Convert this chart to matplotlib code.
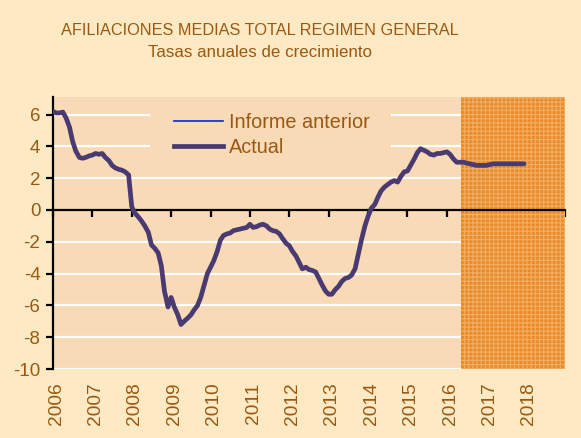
import matplotlib
matplotlib.use('Agg')
import matplotlib.pyplot as plt
from matplotlib.lines import Line2D
from matplotlib.patches import Rectangle
from matplotlib.transforms import blended_transform_factory

# monthly points (decimal year, annual growth %)
years = [2006.00, 2006.08, 2006.17, 2006.25, 2006.33, 2006.42, 2006.50, 2006.58,
         2006.67, 2006.75, 2006.83, 2006.92, 2007.00, 2007.08, 2007.17, 2007.25,
         2007.33, 2007.42, 2007.50, 2007.58, 2007.67, 2007.75, 2007.83, 2007.92,
         2008.00, 2008.08, 2008.17, 2008.25, 2008.33, 2008.42, 2008.50, 2008.58,
         2008.67, 2008.75, 2008.83, 2008.92, 2009.00, 2009.08, 2009.17, 2009.25,
         2009.33, 2009.42, 2009.50, 2009.58, 2009.67, 2009.75, 2009.83, 2009.92,
         2010.00, 2010.08, 2010.17, 2010.25, 2010.33, 2010.42, 2010.50, 2010.58,
         2010.67, 2010.75, 2010.83, 2010.92, 2011.00, 2011.08, 2011.17, 2011.25,
         2011.33, 2011.42, 2011.50, 2011.58, 2011.67, 2011.75, 2011.83, 2011.92,
         2012.00, 2012.08, 2012.17, 2012.25, 2012.33, 2012.42, 2012.50, 2012.58,
         2012.67, 2012.75, 2012.83, 2012.92, 2013.00, 2013.08, 2013.17, 2013.25,
         2013.33, 2013.42, 2013.50, 2013.58, 2013.67, 2013.75, 2013.83, 2013.92,
         2014.00, 2014.08, 2014.17, 2014.25, 2014.33, 2014.42, 2014.50, 2014.58,
         2014.67, 2014.75, 2014.83, 2014.92, 2015.00, 2015.08, 2015.17, 2015.25,
         2015.33, 2015.42, 2015.50, 2015.58, 2015.67, 2015.75, 2015.83, 2015.92,
         2016.00, 2016.08, 2016.17, 2016.25, 2016.33, 2016.42, 2016.50, 2016.58,
         2016.67, 2016.75, 2016.83, 2016.92, 2017.00, 2017.08, 2017.17, 2017.25,
         2017.50, 2017.75, 2017.96]
actual = [6.2, 6.1, 6.1, 6.15, 5.8, 5.2, 4.3, 3.7,
          3.3, 3.25, 3.3, 3.4, 3.45, 3.55, 3.5, 3.55,
          3.3, 3.1, 2.8, 2.65, 2.55, 2.5, 2.4, 2.2,
          0.2, -0.2, -0.45, -0.7, -1.0, -1.4, -2.2, -2.4,
          -2.7, -3.5, -5.1, -6.1, -5.5, -6.1, -6.6, -7.2,
          -7.0, -6.8, -6.6, -6.3, -6.0, -5.5, -4.8, -4.0,
          -3.6, -3.2, -2.6, -1.9, -1.6, -1.5, -1.45, -1.3,
          -1.25, -1.2, -1.15, -1.1, -0.9, -1.1, -1.05, -0.95,
          -0.9, -1.0, -1.2, -1.3, -1.35, -1.5, -1.8, -2.1,
          -2.25, -2.6, -2.9, -3.3, -3.7, -3.6, -3.75, -3.8,
          -3.9, -4.3, -4.7, -5.1, -5.3, -5.3, -5.0, -4.8,
          -4.5, -4.3, -4.25, -4.1, -3.7, -2.8, -1.9, -1.0,
          -0.4, 0.1, 0.35, 0.8, 1.2, 1.45, 1.6, 1.75,
          1.85, 1.75, 2.1, 2.4, 2.45, 2.8, 3.2, 3.6,
          3.85, 3.75, 3.65, 3.5, 3.45, 3.55, 3.55, 3.6,
          3.65, 3.5, 3.2, 3.0, 3.0, 3.0, 2.95, 2.9,
          2.85, 2.8, 2.8, 2.8, 2.8, 2.85, 2.9, 2.9,
          2.9, 2.9, 2.9]

forecast_start = 2016.36
forecast_end = 2019
tick_years = list(range(2006, 2020))
label_years = list(range(2006, 2019))
yticks = [-10, -8, -6, -4, -2, 0, 2, 4, 6]

brown = '#9A5912'
fig_bg = '#FDE9C4'
plot_bg = '#F9DAB6'
line_col = '#4A3A72'

plt.rcParams['font.family'] = ['Liberation Sans', 'DejaVu Sans']
plt.rcParams['hatch.linewidth'] = 0.9

fig = plt.figure(figsize=(5.81, 4.38), dpi=100, facecolor=fig_bg)
ax = fig.add_axes([0.0912, 0.1575, 0.8813, 0.621])
ax.set_facecolor(plot_bg)

for y in yticks:
    if y != 0:
        ax.axhline(y, color='white', lw=1.6, zorder=1)

ax.axvspan(forecast_start, forecast_end, facecolor='#E98B2C', edgecolor='#F2AC5E',
           hatch='++++', lw=0, zorder=2)

ax.plot(years, actual, color=line_col, lw=3.4, zorder=4, solid_capstyle='round')

ax.set_xlim(2006, 2019)
ax.set_ylim(-10, 7.1)

for s in ['top', 'right']:
    ax.spines[s].set_visible(False)
ax.spines['left'].set_linewidth(1.6)
ax.spines['bottom'].set_position(('data', 0))
ax.spines['bottom'].set_linewidth(1.6)
ax.spines['bottom'].set_zorder(3)

ax.set_yticks(yticks)
ax.set_yticklabels([str(v) for v in yticks])
ax.tick_params(axis='y', direction='out', length=5, width=1.6, colors='black',
               labelcolor=brown, labelsize=13.5, pad=4)
ax.set_xticks(tick_years)
ax.tick_params(axis='x', direction='out', length=5, width=1.6, colors='black',
               labelbottom=False)

tr = blended_transform_factory(ax.transData, ax.transAxes)
for yr in label_years:
    ax.text(yr + 0.08, -0.05, str(yr), transform=tr, rotation=90, ha='center', va='top',
            color=brown, fontsize=13.8)

# legend box: plain patch of the plot colour hiding the gridlines
ax.add_patch(Rectangle((0.189, 0.75), 0.471, 0.24, transform=ax.transAxes,
                       facecolor=plot_bg, edgecolor='none', zorder=1.5))
handles = [Line2D([], [], color='#1020E0', lw=1.2),
           Line2D([], [], color=line_col, lw=3.4)]
leg = ax.legend(handles, ['Informe anterior', 'Actual'], loc='upper left',
                bbox_to_anchor=(0.236, 0.94), frameon=False, fontsize=14.3,
                handlelength=2.5, handletextpad=0.3, labelspacing=0.3,
                borderpad=0, borderaxespad=0)
for t in leg.get_texts():
    t.set_color(brown)
leg.set_zorder(5)

fig.text(0.448, 0.931, 'AFILIACIONES MEDIAS TOTAL REGIMEN GENERAL', ha='center',
         va='center', color=brown, fontsize=11.7)
fig.text(0.448, 0.879, 'Tasas anuales de crecimiento', ha='center', va='center',
         color=brown, fontsize=12.2)

fig.savefig('out.png', dpi=100, facecolor=fig_bg)
